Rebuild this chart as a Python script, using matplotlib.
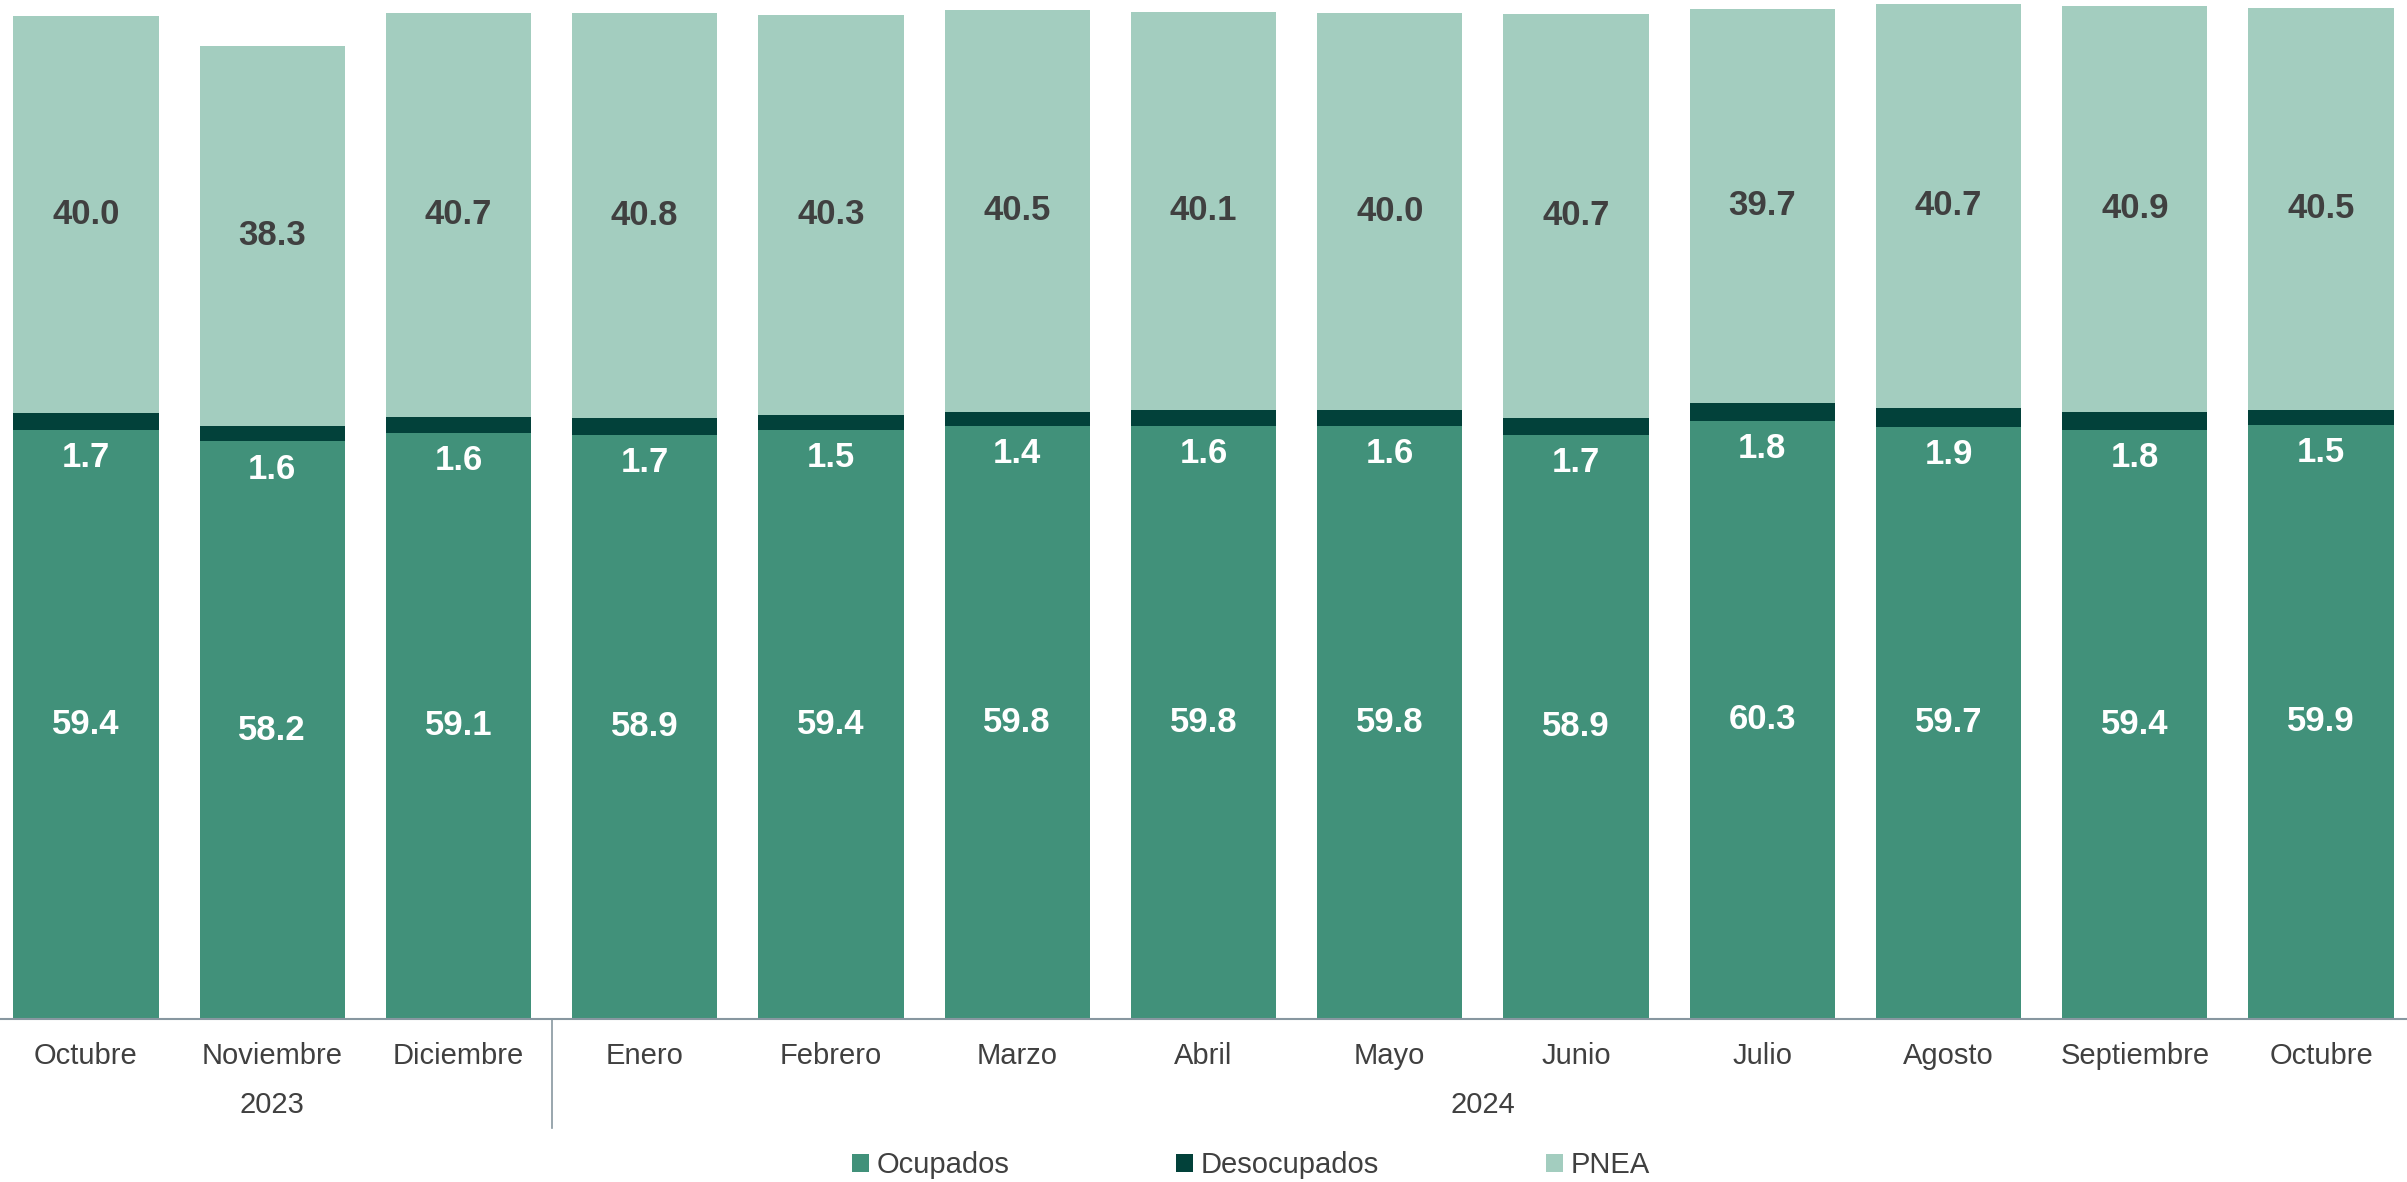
import matplotlib.pyplot as plt
import numpy as np

plt.rcParams['font.family'] = ['Liberation Sans', 'DejaVu Sans']

# Datos (porcentajes)
meses = ['Octubre', 'Noviembre', 'Diciembre', 'Enero', 'Febrero', 'Marzo', 'Abril',
         'Mayo', 'Junio', 'Julio', 'Agosto', 'Septiembre', 'Octubre']
ocupados = [59.4, 58.2, 59.1, 58.9, 59.4, 59.8, 59.8, 59.8, 58.9, 60.3, 59.7, 59.4, 59.9]
desocupados = [1.7, 1.6, 1.6, 1.7, 1.5, 1.4, 1.6, 1.6, 1.7, 1.8, 1.9, 1.8, 1.5]
pnea = [40.0, 38.3, 40.7, 40.8, 40.3, 40.5, 40.1, 40.0, 40.7, 39.7, 40.7, 40.9, 40.5]
anios = ['2023', '2024']
n_2023 = 3

c_ocup = '#41917A'
c_desoc = '#02413A'
c_pnea = '#A3CDBF'
c_text = '#404040'
c_line = '#8797A0'

fig = plt.figure(figsize=(24.07, 11.82), dpi=100)
ax = fig.add_axes([-0.003, 0.138, 1.006, 0.862])

x = np.arange(len(meses))
ocup = np.array(ocupados)
desoc = np.array(desocupados)
pn = np.array(pnea)
w = 0.78

b1 = ax.bar(x, ocup, w, color=c_ocup, label='Ocupados')
b2 = ax.bar(x, desoc, w, bottom=ocup, color=c_desoc, label='Desocupados')
b3 = ax.bar(x, pn, w, bottom=ocup + desoc, color=c_pnea, label='PNEA')

# etiquetas de datos
for i in range(len(x)):
    ax.text(x[i], ocup[i] / 2, f'{ocup[i]:.1f}', ha='center', va='center',
            color='white', fontsize=25, fontweight='bold')
    ax.annotate(f'{desoc[i]:.1f}', (x[i], ocup[i]), xytext=(0, -20),
                textcoords='offset points', ha='center', va='center',
                color='white', fontsize=25, fontweight='bold')
    ax.text(x[i], ocup[i] + desoc[i] + pn[i] / 2, f'{pn[i]:.1f}', ha='center',
            va='center', color=c_text, fontsize=25, fontweight='bold')

ax.set_xlim(-0.5, len(meses) - 0.5)
ax.set_ylim(0, 102.7)
ax.set_yticks([])
ax.set_xticks([])
for s in ['top', 'right', 'left']:
    ax.spines[s].set_visible(False)
ax.spines['bottom'].set_color(c_line)
ax.spines['bottom'].set_linewidth(1.5)

# eje x en dos niveles (mes / año)
trans = ax.get_xaxis_transform()
for i, m in enumerate(meses):
    ax.text(x[i], -0.0363, m, transform=trans, ha='center', va='center',
            fontsize=21, color=c_text)

ax.text((n_2023 - 1) / 2, -0.0844, anios[0], transform=trans, ha='center',
        va='center', fontsize=21, color=c_text)
ax.text((n_2023 + len(meses) - 1) / 2, -0.0844, anios[1], transform=trans,
        ha='center', va='center', fontsize=21, color=c_text)
ax.plot([n_2023 - 0.5, n_2023 - 0.5], [0, -0.107], transform=trans,
        color=c_line, lw=1.2, clip_on=False)

# leyenda: una entrada por posicion
leg_x = [852 / 2407, 1176 / 2407, 1546 / 2407]
for h, lx in zip([b1, b2, b3], leg_x):
    lg = fig.legend(handles=[h], loc='center left', bbox_to_anchor=(lx, 0.0141),
                    frameon=False, fontsize=21, handlelength=0.58,
                    handleheight=0.58, handletextpad=0.28, borderpad=0,
                    borderaxespad=0, labelcolor=c_text)

fig.savefig('out.png', dpi=100)
